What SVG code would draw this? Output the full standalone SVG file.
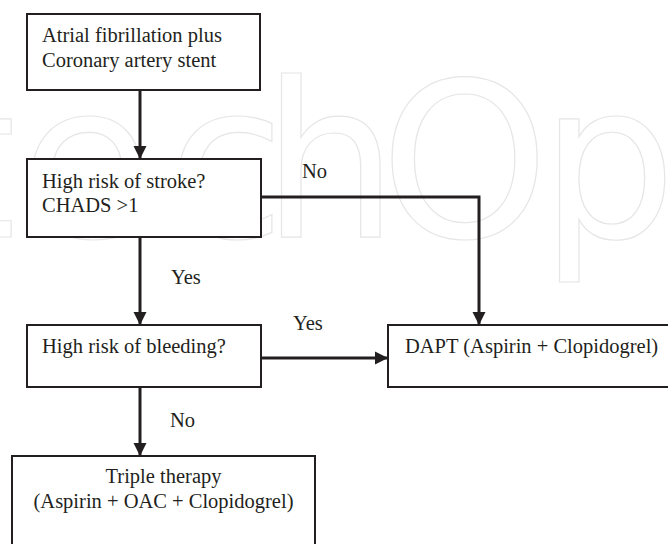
<svg xmlns="http://www.w3.org/2000/svg" width="668" height="544" viewBox="0 0 668 544">
<defs>
<style>
.box{fill:#ffffff;stroke:#231f20;stroke-width:2}
.lbl{font-family:"Liberation Serif","Times New Roman",serif;font-size:20.5px;fill:#231f20}
.con{fill:none;stroke:#231f20;stroke-width:3}
.wm{font-family:"DejaVu Sans",sans-serif;font-size:215px;fill:none;stroke:#e6e6e6;stroke-width:1.2}
</style>
<marker id="ah" viewBox="0 0 10 10" refX="10" refY="5" markerWidth="4.4" markerHeight="4.4" orient="auto" markerUnits="strokeWidth">
<path d="M0,0 L10,5 L0,10 Z" fill="#231f20"/>
</marker>
</defs>
<rect width="668" height="544" fill="#ffffff"/>
<text class="wm" x="-267 -204 -68 20 167 262 380 540 677 809" y="237">IntechOpen</text>
<g id="connectors">
<line class="con" x1="140" y1="90" x2="140" y2="159" marker-end="url(#ah)"/>
<line class="con" x1="140" y1="237" x2="140" y2="325" marker-end="url(#ah)"/>
<line class="con" x1="140" y1="387" x2="140" y2="456" marker-end="url(#ah)"/>
<polyline class="con" points="261,197 479,197 479,325" marker-end="url(#ah)"/>
<line class="con" x1="261" y1="358" x2="388" y2="358" marker-end="url(#ah)"/>
<text class="lbl" x="302" y="178">No</text>
<text class="lbl" x="171" y="284">Yes</text>
<text class="lbl" x="293" y="330">Yes</text>
<text class="lbl" x="170" y="427">No</text>
</g>
<g id="start">
<rect class="box" x="27" y="14" width="233" height="76"/>
<text class="lbl" x="42" y="42">Atrial fibrillation plus</text>
<text class="lbl" x="42" y="67">Coronary artery stent</text>
</g>
<g id="stroke">
<rect class="box" x="27" y="159" width="234" height="78"/>
<text class="lbl" x="42" y="188">High risk of stroke?</text>
<text class="lbl" x="42" y="212">CHADS &gt;1</text>
</g>
<g id="bleeding">
<rect class="box" x="27" y="325" width="234" height="62"/>
<text class="lbl" x="42" y="353">High risk of bleeding?</text>
</g>
<g id="dapt">
<rect class="box" x="388" y="325" width="290" height="62"/>
<text class="lbl" x="405" y="353">DAPT (Aspirin + Clopidogrel)</text>
</g>
<g id="triple">
<rect class="box" x="12" y="456" width="303" height="100"/>
<text class="lbl" x="163.5" y="483" text-anchor="middle">Triple therapy</text>
<text class="lbl" x="163.5" y="508" text-anchor="middle">(Aspirin + OAC + Clopidogrel)</text>
</g>
</svg>
